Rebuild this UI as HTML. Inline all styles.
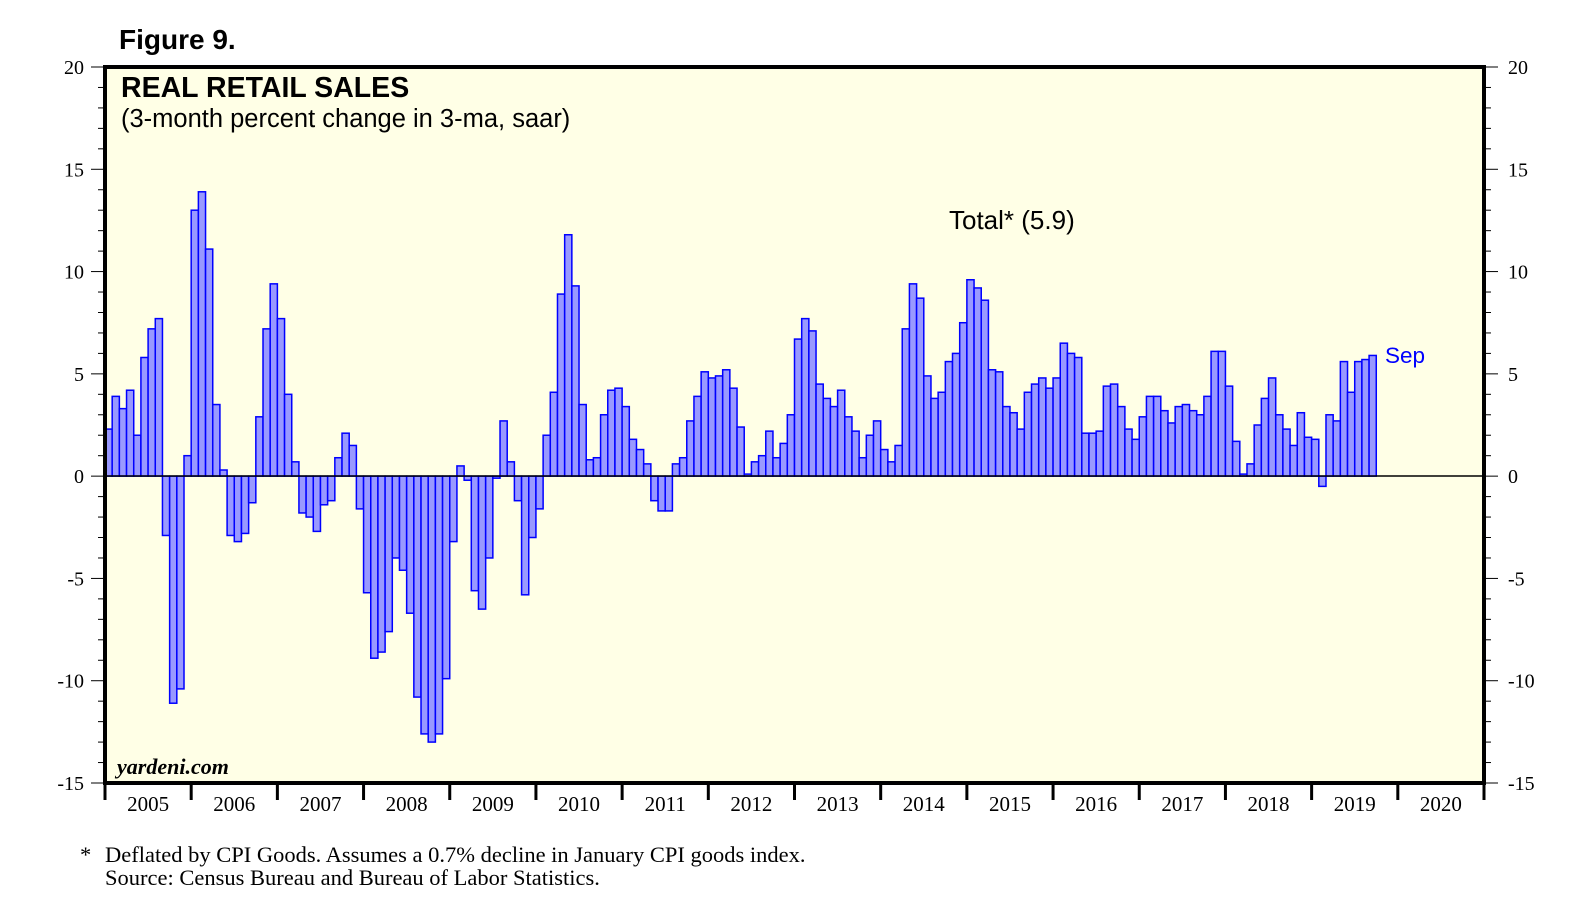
<!DOCTYPE html>
<html><head><meta charset="utf-8"><style>
body{margin:0;background:#fff;}
svg text{font-family:"Liberation Serif",serif;}
</style></head><body>
<svg id="chart" width="1581" height="917" xmlns="http://www.w3.org/2000/svg">
<rect x="0" y="0" width="1581" height="917" fill="#fff"/>
<text x="119" y="49" font-weight="bold" font-size="28" style="font-family:'Liberation Sans',sans-serif">Figure 9.</text>
<rect x="105" y="67" width="1379" height="716" fill="#ffffe6"/>
<g id="bars"></g>
<line x1="105" x2="1484" y1="476" y2="476" stroke="#000" stroke-width="1.5"/>
<rect x="105" y="67" width="1379" height="716" fill="none" stroke="#000" stroke-width="4"/>
<g id="axes"></g>
<text x="121" y="97" font-weight="bold" font-size="28.5" style="font-family:'Liberation Sans',sans-serif">REAL RETAIL SALES</text>
<text x="121" y="127" font-size="25.5" style="font-family:'Liberation Sans',sans-serif">(3-month percent change in 3-ma, saar)</text>
<text x="949" y="229" font-size="26" style="font-family:'Liberation Sans',sans-serif">Total* (5.9)</text>
<text x="1385" y="363" font-size="22.5" fill="#0000ff" style="font-family:'Liberation Sans',sans-serif">Sep</text>
<text x="117" y="774" font-size="22" font-weight="bold" font-style="italic">yardeni.com</text>
<text x="80" y="862" font-size="22.5">*</text>
<text x="105" y="862" font-size="22.5">Deflated by CPI Goods. Assumes a 0.7% decline in January CPI goods index.</text>
<text x="105" y="885" font-size="22.5">Source: Census Bureau and Bureau of Labor Statistics.</text>
</svg>
<script>
const years=["2005","2006","2007","2008","2009","2010","2011","2012","2013","2014","2015","2016","2017","2018","2019","2020"];
const yTicks=[20,15,10,5,0,-5,-10,-15];
const values=[
2.3,3.9,3.3,4.2,2.0,5.8,7.2,7.7,-2.9,-11.1,-10.4,1.0,
13.0,13.9,11.1,3.5,0.3,-2.9,-3.2,-2.8,-1.3,2.9,7.2,9.4,
7.7,4.0,0.7,-1.8,-2.0,-2.7,-1.4,-1.2,0.9,2.1,1.5,-1.6,
-5.7,-8.9,-8.6,-7.6,-4.0,-4.6,-6.7,-10.8,-12.6,-13.0,-12.6,-9.9,
-3.2,0.5,-0.2,-5.6,-6.5,-4.0,-0.1,2.7,0.7,-1.2,-5.8,-3.0,
-1.6,2.0,4.1,8.9,11.8,9.3,3.5,0.8,0.9,3.0,4.2,4.3,
3.4,1.8,1.3,0.6,-1.2,-1.7,-1.7,0.6,0.9,2.7,3.9,5.1,
4.8,4.9,5.2,4.3,2.4,0.1,0.7,1.0,2.2,0.9,1.6,3.0,
6.7,7.7,7.1,4.5,3.8,3.4,4.2,2.9,2.2,0.9,2.0,2.7,
1.3,0.7,1.5,7.2,9.4,8.7,4.9,3.8,4.1,5.6,6.0,7.5,
9.6,9.2,8.6,5.2,5.1,3.4,3.1,2.3,4.1,4.5,4.8,4.3,
4.8,6.5,6.0,5.8,2.1,2.1,2.2,4.4,4.5,3.4,2.3,1.8,
2.9,3.9,3.9,3.2,2.6,3.4,3.5,3.2,3.0,3.9,6.1,6.1,
4.4,1.7,0.1,0.6,2.5,3.8,4.8,3.0,2.3,1.5,3.1,1.9,
1.8,-0.5,3.0,2.7,5.6,4.1,5.6,5.7,5.9];
const NS="http://www.w3.org/2000/svg";
const X0=105,X1=1484,Y0=67,Y1=783,VMAX=20,VMIN=-15;
const monthW=(X1-X0)/(years.length*12);
function xm(i){return X0+i*monthW;}
function yv(v){return Y0+(VMAX-v)/(VMAX-VMIN)*(Y1-Y0);}
function mk(t,a){const e=document.createElementNS(NS,t);for(const k in a)e.setAttribute(k,a[k]);return e;}
const bars=document.getElementById('bars');
values.forEach((v,i)=>{
 const y=Math.min(yv(v),yv(0)),h=Math.abs(yv(v)-yv(0));
 const r=mk('rect',{x:xm(i),y:y,width:monthW,height:h,fill:'#9999ff',stroke:'#0000ff','stroke-width':1.5});
 
 
 bars.appendChild(r);
});
const ax=document.getElementById('axes');
for(let v=VMIN;v<=VMAX;v++){
 const y=yv(v),major=v%5===0,len=major?14:7;
 ax.appendChild(mk('line',{x1:X0-len,x2:X0,y1:y,y2:y,stroke:'#000','stroke-width':1}));
 ax.appendChild(mk('line',{x1:X1,x2:X1+len,y1:y,y2:y,stroke:'#000','stroke-width':1}));
}
yTicks.forEach(v=>{
 const l=mk('text',{x:84,y:yv(v)+7,'font-size':20,'text-anchor':'end'});l.textContent=v;
 
 
 ax.appendChild(l);
 const r=mk('text',{x:1508,y:yv(v)+7,'font-size':20});r.textContent=v;
 
 
 ax.appendChild(r);
});
years.forEach((yr,i)=>{
 const x=xm(i*12);
 ax.appendChild(mk('line',{x1:x,x2:x,y1:Y1,y2:Y1+17,stroke:'#000','stroke-width':3}));
 const t=mk('text',{x:x+monthW*6,y:811,'font-size':21,'text-anchor':'middle'});t.textContent=yr;
 
 
 ax.appendChild(t);
});
ax.appendChild(mk('line',{x1:X1,x2:X1,y1:Y1,y2:Y1+17,stroke:'#000','stroke-width':3}));
</script>
</body></html>
